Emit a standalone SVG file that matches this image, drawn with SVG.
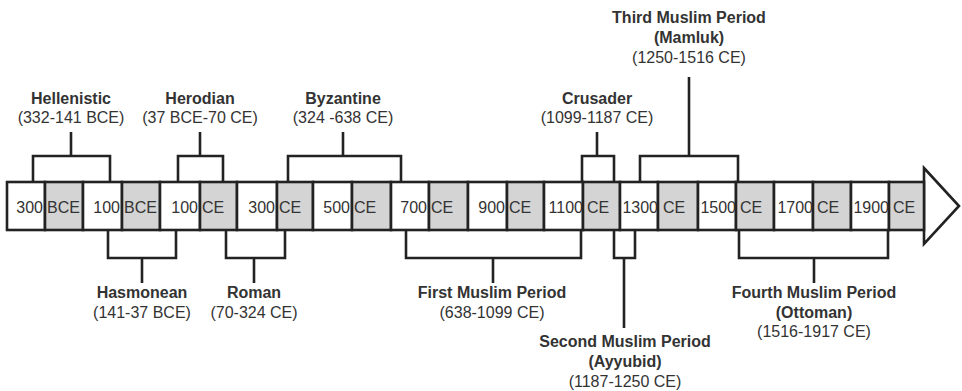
<svg xmlns="http://www.w3.org/2000/svg" width="962" height="391" viewBox="0 0 962 391">
<style>
.w{fill:#fff;stroke:#222;stroke-width:2.6}
.g{fill:#d4d4d4;stroke:#222;stroke-width:2.6}
.ln{fill:none;stroke:#222;stroke-width:2.6;stroke-linejoin:miter}
text{font-family:"Liberation Sans",Arial,sans-serif;font-size:16px;fill:#333}
.b{font-weight:bold}
.n{text-anchor:end}
.e{text-anchor:start}
.c{text-anchor:middle}
</style>
<rect width="962" height="391" fill="#fff"/>
<g id="connectors">
<path class="ln" d="M33,182V156H110V182M71,156V132"/>
<path class="ln" d="M178,182V156H223V182M200,156V132"/>
<path class="ln" d="M288,182V156H401V182M343,156V132"/>
<path class="ln" d="M582,182V156H614V182M597,156V132"/>
<path class="ln" d="M640,182V156H738V182M689,156V77"/>
<path class="ln" d="M108,230V258H176V230M142,258V283"/>
<path class="ln" d="M226,230V258H285V230M254,258V283"/>
<path class="ln" d="M406,230V258H581V230M493,258V283"/>
<path class="ln" d="M614,230V258H635V230M624,258V328"/>
<path class="ln" d="M739,230V258H888V230M814,258V283"/>
</g>
<g id="timeline">
<polygon points="924,168 959,206 924,244" fill="#fff" stroke="#222" stroke-width="2.6"/>
<rect class="w" x="7" y="182" width="38" height="48"/><rect class="g" x="45" y="182" width="38" height="48"/>
<rect class="w" x="83" y="182" width="39" height="48"/><rect class="g" x="122" y="182" width="38" height="48"/>
<rect class="w" x="160" y="182" width="40" height="48"/><rect class="g" x="200" y="182" width="37" height="48"/>
<rect class="w" x="237" y="182" width="40" height="48"/><rect class="g" x="277" y="182" width="36" height="48"/>
<rect class="w" x="313" y="182" width="39" height="48"/><rect class="g" x="352" y="182" width="39" height="48"/>
<rect class="w" x="391" y="182" width="38" height="48"/><rect class="g" x="429" y="182" width="39" height="48"/>
<rect class="w" x="468" y="182" width="39" height="48"/><rect class="g" x="507" y="182" width="37" height="48"/>
<rect class="w" x="544" y="182" width="39" height="48"/><rect class="g" x="583" y="182" width="37" height="48"/>
<rect class="w" x="620" y="182" width="38" height="48"/><rect class="g" x="658" y="182" width="40" height="48"/>
<rect class="w" x="698" y="182" width="38" height="48"/><rect class="g" x="736" y="182" width="38" height="48"/>
<rect class="w" x="774" y="182" width="39" height="48"/><rect class="g" x="813" y="182" width="38" height="48"/>
<rect class="w" x="851" y="182" width="38" height="48"/><rect class="g" x="889" y="182" width="35" height="48"/>
<text class="n" x="43" y="213">300</text><text class="e" x="47" y="213">BCE</text>
<text class="n" x="120" y="213">100</text><text class="e" x="124" y="213">BCE</text>
<text class="n" x="198" y="213">100</text><text class="e" x="202" y="213">CE</text>
<text class="n" x="275" y="213">300</text><text class="e" x="279" y="213">CE</text>
<text class="n" x="350" y="213">500</text><text class="e" x="354" y="213">CE</text>
<text class="n" x="427" y="213">700</text><text class="e" x="431" y="213">CE</text>
<text class="n" x="505" y="213">900</text><text class="e" x="509" y="213">CE</text>
<text class="n" x="583" y="213">1100</text><text class="e" x="587" y="213">CE</text>
<text class="n" x="658" y="213">1300</text><text class="e" x="663" y="213">CE</text>
<text class="n" x="736" y="213">1500</text><text class="e" x="740" y="213">CE</text>
<text class="n" x="813" y="213">1700</text><text class="e" x="817" y="213">CE</text>
<text class="n" x="889" y="213">1900</text><text class="e" x="893" y="213">CE</text>
</g>
<g id="hellenistic"><text class="b c" x="71" y="104">Hellenistic</text><text class="c" x="71" y="123">(332-141 BCE)</text></g>
<g id="herodian"><text class="b c" x="200" y="104">Herodian</text><text class="c" x="200" y="123">(37 BCE-70 CE)</text></g>
<g id="byzantine"><text class="b c" x="343" y="104">Byzantine</text><text class="c" x="343" y="123">(324 -638 CE)</text></g>
<g id="crusader"><text class="b c" x="597" y="104">Crusader</text><text class="c" x="597" y="123">(1099-1187 CE)</text></g>
<g id="third-muslim"><text class="b c" x="689" y="23">Third Muslim Period</text><text class="b c" x="689" y="43">(Mamluk)</text><text class="c" x="689" y="63">(1250-1516 CE)</text></g>
<g id="hasmonean"><text class="b c" x="142" y="298">Hasmonean</text><text class="c" x="142" y="318">(141-37 BCE)</text></g>
<g id="roman"><text class="b c" x="254" y="298">Roman</text><text class="c" x="254" y="318">(70-324 CE)</text></g>
<g id="first-muslim"><text class="b c" x="492" y="298">First Muslim Period</text><text class="c" x="492" y="318">(638-1099 CE)</text></g>
<g id="second-muslim"><text class="b c" x="625" y="347">Second Muslim Period</text><text class="b c" x="625" y="367">(Ayyubid)</text><text class="c" x="625" y="387">(1187-1250 CE)</text></g>
<g id="fourth-muslim"><text class="b c" x="814" y="298">Fourth Muslim Period</text><text class="b c" x="814" y="318">(Ottoman)</text><text class="c" x="814" y="337">(1516-1917 CE)</text></g>
</svg>
